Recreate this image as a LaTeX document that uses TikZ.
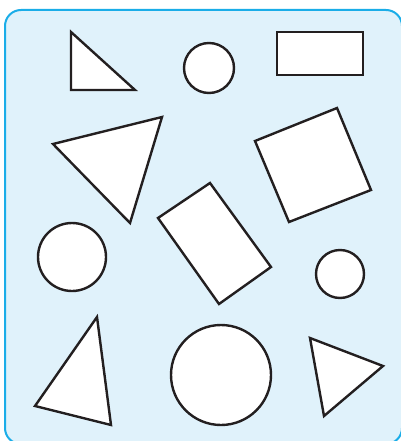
\documentclass[tikz,border=0pt]{standalone}
\usepackage{tikz}
\definecolor{panelblue}{HTML}{E0F2FB}
\definecolor{panelrim}{HTML}{1AADE8}
\definecolor{ink}{HTML}{231F20}
\tikzset{outline/.style={draw=ink,line width=2.4pt,fill=white,line join=miter}}

\begin{document}
\begin{tikzpicture}[x=1pt,y=-1pt]
\useasboundingbox (0,0) rectangle (400,441);
\draw[panelrim,line width=2pt,fill=panelblue,rounded corners=16pt] (5,10) rectangle (402,444);

% top row
\draw[outline] (71,32) -- (71,90) -- (135,90) -- cycle;
\draw[outline] (209,68) circle (25);
\draw[outline] (277,32) rectangle (363,75);

% second row
\draw[outline] (53,144) -- (162,117) -- (130,223) -- cycle;
\draw[outline] (255,141) -- (337,108) -- (371,190) -- (289,222) -- cycle;

% middle
\draw[outline] (72,257) circle (34);
\draw[outline] (210,183) -- (271,267) -- (219,304) -- (158,218) -- cycle;
\draw[outline] (340,274) circle (24);

% bottom row
\draw[outline] (97,317) -- (111,425) -- (35,406) -- cycle;
\draw[outline] (221,375) circle (50);
\draw[outline] (310,338) -- (383,366) -- (324,416) -- cycle;
\end{tikzpicture}
\end{document}
